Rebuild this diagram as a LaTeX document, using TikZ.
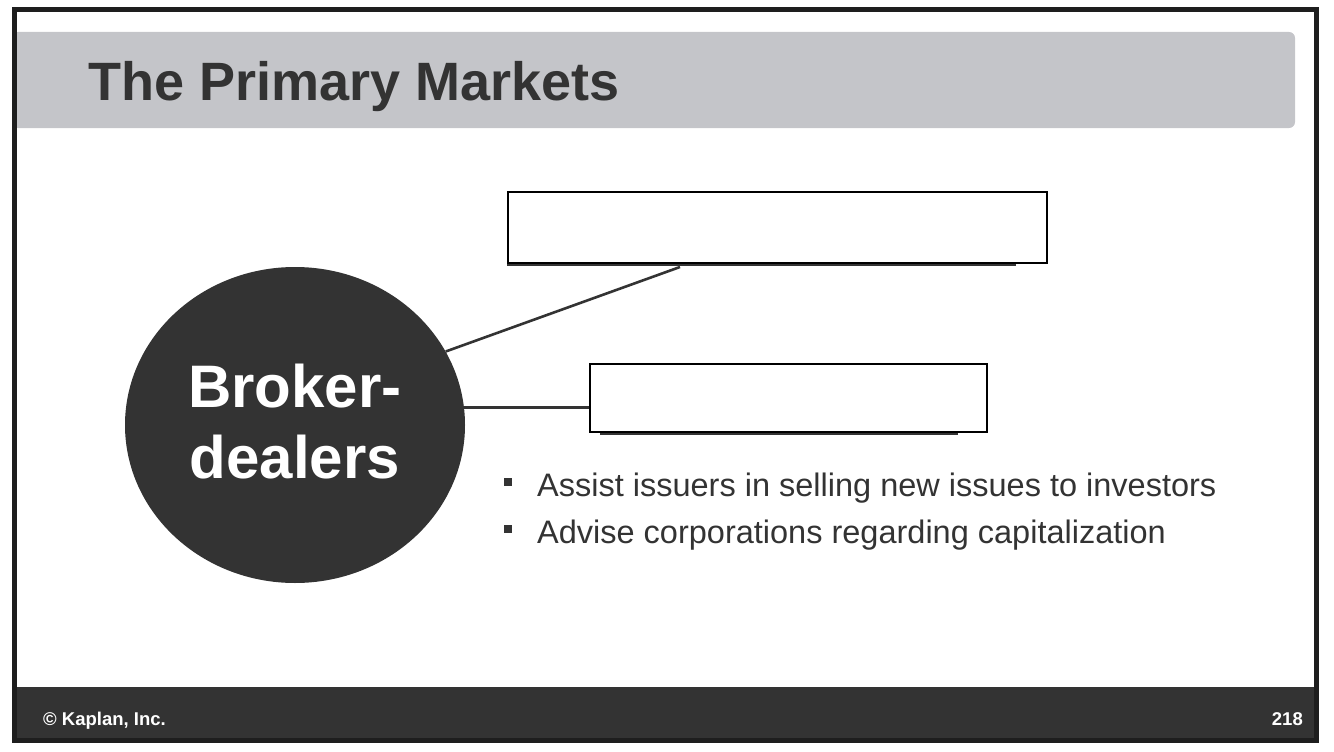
\documentclass[tikz,border=0pt]{standalone}
\usepackage{fontspec}
\setmainfont{Liberation Sans}
\usetikzlibrary{shapes.geometric,positioning}
\definecolor{slidedark}{HTML}{333333}
\definecolor{bandgray}{HTML}{C4C5C9}
\definecolor{framek}{HTML}{1E1E1E}
\newcommand\fsz[1]{\fontsize{#1}{#1}\selectfont}

\begin{document}
\begin{tikzpicture}[x=1pt,y=-1pt]%
        \useasboundingbox (0,0) rectangle (1334,752);%%
        % slide background
        \fill[bandgray,rounded corners=6pt] (12,32) rectangle (1295,128); %%
        \fill[slidedark] (17,687) rectangle (1314,738); %%
        \draw[framek,line width=5pt] (14.5,9.5) rectangle (1316.5,740.5); %%
        \node[anchor=base west,inner sep=0,text=slidedark,font=\fsz{54}\bfseries] (title) at (88,100) {The Primary Markets}; %%
        \begin{scope}[inner sep=0]
        \tikzstyle{every node}=[font=\fsz{18.5}\bfseries,text=white] %%
        \node[anchor=base west] (copy) at (43,725) {\textcopyright{} Kaplan, Inc.}; %%
        \node[anchor=base east] (page) at (1303,725) {218}; %%
        \end{scope}
        % broker-dealers
        \node[ellipse,fill=slidedark,minimum width=340pt,minimum height=316pt,inner sep=0] (bd) at (295,425) {}; %%
        \node[text=white,align=center,font=\fsz{60}\bfseries,inner sep=0] (bdt) at ([yshift=3.5pt]bd.center) {Broker-\\[11pt]dealers}; %%
        \begin{scope}[line width=1.5pt]
        \tikzstyle{every node}=[draw,inner sep=0,fill=white] %%
        \node[minimum width=539pt,minimum height=71pt] (b1) at (777.5,227.5) {}; %%
        \node[minimum width=397pt,minimum height=68pt] (b2) at (788.5,398) {}; %%
        \end{scope}
        \draw[slidedark,line width=2pt] ([yshift=-1.5pt]b1.south west)--([xshift=-32pt,yshift=-1.5pt]b1.south east); %%
        \draw[slidedark,line width=2pt] ([xshift=11pt,yshift=-1.5pt]b2.south west)--([xshift=-30pt,yshift=-1.5pt]b2.south east); %%
        \coordinate (c1) at (680,267); %%
        \draw[slidedark,line width=2.6pt] (bd.26)--(c1); %%
        \draw[slidedark,line width=2.6pt] (bd.6)--(bd.6 -| b2.west); %%
        % bullets
        \begin{scope}[inner sep=0]
        \tikzstyle{every node}=[text=slidedark,font=\fsz{32.5},anchor=base west] %%
        \node[fill=slidedark,minimum size=8pt,anchor=center] (q1) at (507.5,482) {}; %%
        \node[fill=slidedark,minimum size=8pt,anchor=center] (q2) at (507.5,529) {}; %%
        \node (t1) at (537,496) {Assist issuers in selling new issues to investors}; %%
        \node (t2) at (537,543) {Advise corporations regarding capitalization}; %%
        \end{scope}
\end{tikzpicture}
\end{document}
